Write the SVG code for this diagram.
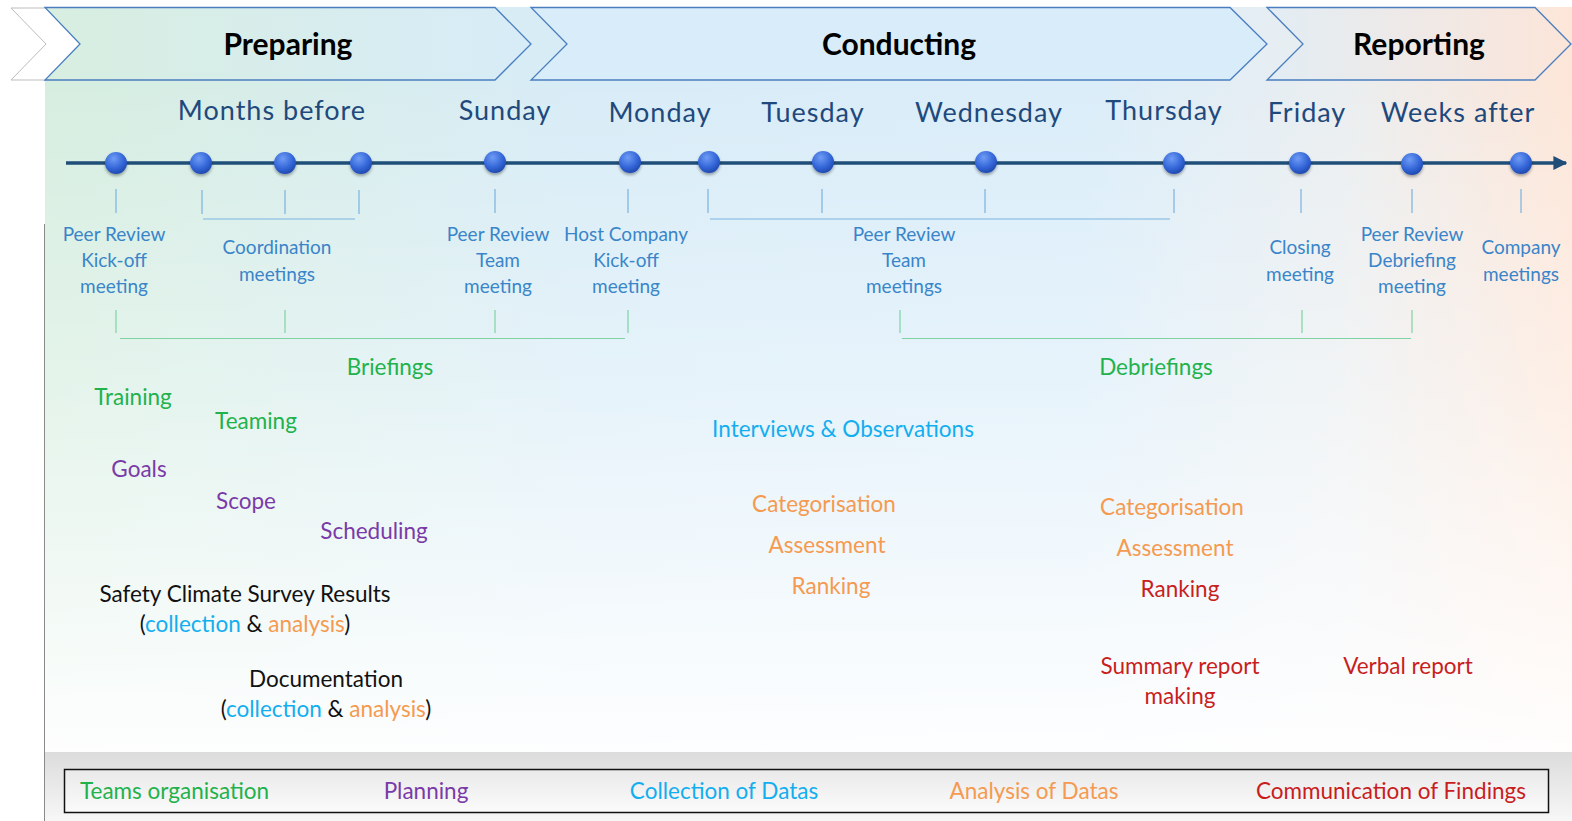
<svg xmlns="http://www.w3.org/2000/svg" width="1572" height="821" viewBox="0 0 1572 821">
<defs>
<linearGradient id="bgH" x1="45" y1="0" x2="1572" y2="0" gradientUnits="userSpaceOnUse">
<stop offset="0" stop-color="#d6eedf"/>
<stop offset="0.35" stop-color="#d8ecf7"/>
<stop offset="0.68" stop-color="#daedf9"/>
<stop offset="0.85" stop-color="#eaeef0"/>
<stop offset="1" stop-color="#fde6d8"/>
</linearGradient>
<linearGradient id="bgV" x1="0" y1="80" x2="0" y2="752" gradientUnits="userSpaceOnUse">
<stop offset="0" stop-color="#ffffff" stop-opacity="0"/>
<stop offset="0.45" stop-color="#ffffff" stop-opacity="0.35"/>
<stop offset="1" stop-color="#ffffff" stop-opacity="0.95"/>
</linearGradient>
<linearGradient id="gPrep" x1="45" y1="0" x2="531" y2="0" gradientUnits="userSpaceOnUse">
<stop offset="0" stop-color="#d7eee0"/>
<stop offset="1" stop-color="#d8ecf8"/>
</linearGradient>
<linearGradient id="gRep" x1="1267" y1="0" x2="1572" y2="0" gradientUnits="userSpaceOnUse">
<stop offset="0" stop-color="#e2edf4"/>
<stop offset="1" stop-color="#fce5d9"/>
</linearGradient>
<linearGradient id="gStrip" x1="0" y1="752" x2="0" y2="821" gradientUnits="userSpaceOnUse">
<stop offset="0" stop-color="#dcdcdc"/>
<stop offset="1" stop-color="#f7f7f7"/>
</linearGradient>
<linearGradient id="gLeg" x1="0" y1="769" x2="0" y2="813" gradientUnits="userSpaceOnUse">
<stop offset="0" stop-color="#e9e9e9"/>
<stop offset="1" stop-color="#fbfbfb"/>
</linearGradient>
<radialGradient id="gDot" cx="0.4" cy="0.3" r="0.75">
<stop offset="0" stop-color="#6f9cf5"/>
<stop offset="0.6" stop-color="#3466d8"/>
<stop offset="1" stop-color="#1c45a8"/>
</radialGradient>
<filter id="sh" x="-50%" y="-50%" width="200%" height="200%">
<feDropShadow dx="0" dy="2" stdDeviation="1.5" flood-color="#000" flood-opacity="0.35"/>
</filter>
<marker id="arr" viewBox="0 0 10 10" refX="9" refY="5" markerWidth="4" markerHeight="4" orient="auto">
<path d="M0,0 L10,5 L0,10 z" fill="#1f4e79"/>
</marker>
<style>
text{font-family:"Lato","Open Sans","Liberation Sans",sans-serif}
.chev{stroke:#4a7ebf;stroke-width:1.3}
.ct{font-size:30px;font-weight:bold;fill:#000;text-anchor:middle}
.day{font-size:27px;fill:#1f497d;text-anchor:middle;letter-spacing:1px}
.tk{stroke:#7ab3e0;stroke-width:1.2}
.gt{stroke:#7fd3a3;stroke-width:1.2}
.lb{font-size:19px;fill:#3a85c9;text-anchor:middle}
.t{font-size:22.5px;text-anchor:middle}
.grn{fill:#22b24c}
.pur{fill:#7a3aa8}
.cya{fill:#12aef0}
.ora{fill:#f59a50}
.red{fill:#c81e1e}
.blk{fill:#111}
.dot{fill:url(#gDot);filter:url(#sh)}
</style>
</defs>

<rect x="0" y="0" width="1572" height="821" fill="#ffffff"/>
<g id="background">
<rect x="45" y="7" width="1527" height="745" fill="url(#bgH)"/>
<rect x="45" y="7" width="1527" height="745" fill="url(#bgV)"/>
<rect x="45" y="752" width="1527" height="69" fill="url(#gStrip)"/>
<line x1="44.5" y1="224" x2="44.5" y2="821" stroke="#8a8a8a" stroke-width="1"/>
</g>

<g id="phases">
<polygon points="11,8 46,8 81,44 46,80 11,80 46,44" fill="#ffffff" stroke="#bdbdbd" stroke-width="1"/>
<g id="phase-preparing">
<polygon class="chev" points="45,7.5 495,7.5 531,44 495,80 45,80 80,44" fill="url(#gPrep)"/>
<text class="ct" x="288" y="55">Preparing</text>
</g>
<g id="phase-conducting">
<polygon class="chev" points="531,7.5 1230,7.5 1267,44 1230,80 531,80 567,44" fill="#d8ecf9"/>
<text class="ct" x="899" y="55">Conducting</text>
</g>
<g id="phase-reporting">
<polygon class="chev" points="1267,7.5 1535,7.5 1571,44 1535,80 1267,80 1303,44" fill="url(#gRep)"/>
<text class="ct" x="1419" y="55">Reporting</text>
</g>
</g>

<g id="days">
<text class="day" x="272" y="120">Months before</text>
<text class="day" x="505" y="120">Sunday</text>
<text class="day" x="660" y="122">Monday</text>
<text class="day" x="813" y="122">Tuesday</text>
<text class="day" x="989" y="122">Wednesday</text>
<text class="day" x="1164" y="120">Thursday</text>
<text class="day" x="1307" y="122">Friday</text>
<text class="day" x="1458" y="122">Weeks after</text>
</g>

<g id="connectors">
<line x1="66" y1="163" x2="1566" y2="163" stroke="#1f4e79" stroke-width="3.5" marker-end="url(#arr)"/>
<g id="ticks">
<line class="tk" x1="116" y1="189" x2="116" y2="213"/>
<line class="tk" x1="202" y1="190" x2="202" y2="214"/>
<line class="tk" x1="285" y1="190" x2="285" y2="214"/>
<line class="tk" x1="359" y1="190" x2="359" y2="214"/>
<line class="tk" x1="203" y1="219" x2="355" y2="219"/>
<line class="tk" x1="495" y1="189" x2="495" y2="213"/>
<line class="tk" x1="628" y1="189" x2="628" y2="213"/>
<line class="tk" x1="708" y1="189" x2="708" y2="213"/>
<line class="tk" x1="822" y1="189" x2="822" y2="213"/>
<line class="tk" x1="985" y1="189" x2="985" y2="213"/>
<line class="tk" x1="1174" y1="189" x2="1174" y2="213"/>
<line class="tk" x1="710" y1="219" x2="1170" y2="219"/>
<line class="tk" x1="1301" y1="189" x2="1301" y2="213"/>
<line class="tk" x1="1412" y1="189" x2="1412" y2="213"/>
<line class="tk" x1="1521" y1="189" x2="1521" y2="213"/>
</g>
<g id="briefing-bracket">
<line class="gt" x1="116" y1="310" x2="116" y2="333"/>
<line class="gt" x1="285" y1="310" x2="285" y2="333"/>
<line class="gt" x1="495" y1="310" x2="495" y2="333"/>
<line class="gt" x1="628" y1="310" x2="628" y2="333"/>
<line class="gt" x1="120" y1="338.5" x2="625" y2="338.5"/>
</g>
<g id="debriefing-bracket">
<line class="gt" x1="900" y1="310" x2="900" y2="333"/>
<line class="gt" x1="1302" y1="310" x2="1302" y2="333"/>
<line class="gt" x1="1412" y1="310" x2="1412" y2="333"/>
<line class="gt" x1="902" y1="338.5" x2="1411" y2="338.5"/>
</g>
</g>

<g id="dots">
<circle class="dot" cx="116" cy="163" r="11"/>
<circle class="dot" cx="201" cy="163" r="11"/>
<circle class="dot" cx="285" cy="163" r="11"/>
<circle class="dot" cx="361" cy="163" r="11"/>
<circle class="dot" cx="495" cy="162" r="11"/>
<circle class="dot" cx="630" cy="162" r="11"/>
<circle class="dot" cx="709" cy="162" r="11"/>
<circle class="dot" cx="823" cy="162" r="11"/>
<circle class="dot" cx="986" cy="162" r="11"/>
<circle class="dot" cx="1174" cy="163" r="11"/>
<circle class="dot" cx="1300" cy="163" r="11"/>
<circle class="dot" cx="1412" cy="164" r="11"/>
<circle class="dot" cx="1521" cy="163" r="11"/>
</g>

<g id="meetings">
<g id="m-kickoff"><text class="lb" x="114" y="241">Peer Review</text><text class="lb" x="114" y="267">Kick-off</text><text class="lb" x="114" y="293">meeting</text></g>
<g id="m-coord"><text class="lb" x="277" y="254">Coordination</text><text class="lb" x="277" y="281">meetings</text></g>
<g id="m-team"><text class="lb" x="498" y="241">Peer Review</text><text class="lb" x="498" y="267">Team</text><text class="lb" x="498" y="293">meeting</text></g>
<g id="m-host"><text class="lb" x="626" y="241">Host Company</text><text class="lb" x="626" y="267">Kick-off</text><text class="lb" x="626" y="293">meeting</text></g>
<g id="m-teams"><text class="lb" x="904" y="241">Peer Review</text><text class="lb" x="904" y="267">Team</text><text class="lb" x="904" y="293">meetings</text></g>
<g id="m-closing"><text class="lb" x="1300" y="254">Closing</text><text class="lb" x="1300" y="281">meeting</text></g>
<g id="m-debrief"><text class="lb" x="1412" y="241">Peer Review</text><text class="lb" x="1412" y="267">Debriefing</text><text class="lb" x="1412" y="293">meeting</text></g>
<g id="m-company"><text class="lb" x="1521" y="254">Company</text><text class="lb" x="1521" y="281">meetings</text></g>
</g>

<g id="activities">
<text class="t grn" x="390" y="375">Briefings</text>
<text class="t grn" x="1156" y="375">Debriefings</text>
<text class="t grn" x="133" y="405">Training</text>
<text class="t grn" x="256" y="429">Teaming</text>
<text class="t pur" x="139" y="477">Goals</text>
<text class="t pur" x="246" y="509">Scope</text>
<text class="t pur" x="374" y="539">Scheduling</text>
<text class="t cya" x="843" y="437">Interviews &amp; Observations</text>
<text class="t ora" x="824" y="512">Categorisation</text>
<text class="t ora" x="827" y="553">Assessment</text>
<text class="t ora" x="831" y="594">Ranking</text>
<text class="t ora" x="1172" y="515">Categorisation</text>
<text class="t ora" x="1175" y="556">Assessment</text>
<text class="t red" x="1180" y="597">Ranking</text>
<text class="t red" x="1180" y="674">Summary report</text>
<text class="t red" x="1180" y="704">making</text>
<text class="t red" x="1408" y="674">Verbal report</text>
<text class="t blk" x="245" y="602">Safety Climate Survey Results</text>
<text class="t blk" x="245" y="632">(<tspan class="cya">collection</tspan> &amp; <tspan class="ora">analysis</tspan>)</text>
<text class="t blk" x="326" y="687">Documentation</text>
<text class="t blk" x="326" y="717">(<tspan class="cya">collection</tspan> &amp; <tspan class="ora">analysis</tspan>)</text>
</g>

<g id="legend">
<rect x="64.5" y="769.5" width="1484" height="43" fill="url(#gLeg)" stroke="#111" stroke-width="1.5"/>
<text class="t grn" x="80" y="799" style="text-anchor:start">Teams organisation</text>
<text class="t pur" x="426" y="799">Planning</text>
<text class="t cya" x="724" y="799">Collection of Datas</text>
<text class="t ora" x="1034" y="799">Analysis of Datas</text>
<text class="t red" x="1391" y="799">Communication of Findings</text>
</g>
</svg>
